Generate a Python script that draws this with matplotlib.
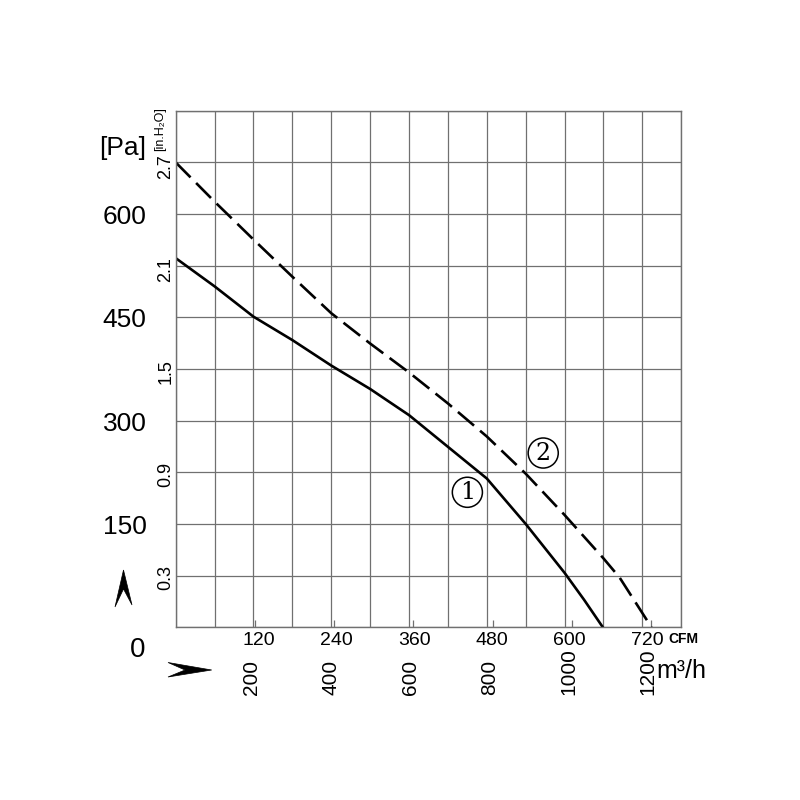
import matplotlib
matplotlib.use("Agg")
import matplotlib.pyplot as plt
from matplotlib.patches import Polygon

# Kurve 1 (durchgezogen) und Kurve 2 (gestrichelt): Volumenstrom CFM / Druck Pa
cfm_1 = [0, 60, 120, 180, 240, 300, 360, 420, 480, 540, 600, 630, 659]
pa_1 = [536, 495, 451, 417, 380, 346, 308, 262, 216, 150, 79, 40, 0]

cfm_2 = [0, 60, 120, 180, 240, 300, 360, 420, 480, 540, 600, 660, 685, 734]
pa_2 = [675, 618, 563, 509, 456, 412, 370, 325, 277, 223, 163, 100, 72, 0]

pa_ticks = [150, 300, 450, 600]
inh2o_ticks = [0.3, 0.9, 1.5, 2.1, 2.7]
cfm_ticks = [120, 240, 360, 480, 600, 720]
m3h_ticks = [200, 400, 600, 800, 1000, 1200]

PA_PER_INH2O = 249.0
CFM_PER_M3H = 0.611  # so wie im Diagramm gezeichnet

FONT = ["Liberation Sans", "DejaVu Sans"]
GRID = "#707070"

fig = plt.figure(figsize=(8, 8), dpi=100)
ax = fig.add_axes([0.2196, 0.2159, 0.632, 0.6457])

ax.plot(cfm_1, pa_1, color="black", lw=1.9, solid_joinstyle="round")
ax.plot(cfm_2, pa_2, color="black", lw=1.9, dashes=(8, 3))

ax.set_xlim(0, 780)
ax.set_ylim(0, 750)
ax.set_xticks(range(0, 781, 60))
ax.set_yticks(range(0, 751, 75))
ax.grid(True, color=GRID, lw=0.9)
ax.tick_params(length=0, labelbottom=False, labelleft=False)
for s in ax.spines.values():
    s.set_color(GRID)
    s.set_linewidth(1.0)

# kleine Striche fuer m3/h
sec = ax.secondary_xaxis("bottom", functions=(lambda x: x / CFM_PER_M3H, lambda x: x * CFM_PER_M3H))
sec.set_xticks(m3h_ticks)
sec.tick_params(direction="in", length=5, width=0.9, color=GRID, labelbottom=False)
sec.spines["bottom"].set_visible(False)

# Beschriftung links (Pa)
for v in pa_ticks:
    ax.annotate(str(v), xy=(0, v), xycoords=("axes fraction", "data"),
                xytext=(-51, -3), textcoords="offset pixels",
                ha="center", va="center", fontsize=19, family=FONT)
fig.text(138 / 800, 1 - 650 / 800, "0", ha="center", va="center", fontsize=20, family=FONT)
fig.text(123 / 800, 1 - 148 / 800, "[Pa]", ha="center", va="center", fontsize=19, family=FONT)

# Beschriftung inH2O
for v in inh2o_ticks:
    ax.annotate(str(v), xy=(0, v * PA_PER_INH2O), xycoords=("axes fraction", "data"),
                xytext=(-10, -2), textcoords="offset pixels", rotation=90,
                ha="center", va="center", fontsize=13, family=FONT)
fig.text(160 / 800, 1 - 129 / 800, "[in.H₂O]", rotation=90, ha="center", va="center",
         fontsize=9, family=FONT)

# Beschriftung unten (CFM und m3/h)
for v in cfm_ticks:
    ax.annotate(str(v), xy=(v, 0), xycoords=("data", "axes fraction"),
                xytext=(5, -13), textcoords="offset pixels",
                ha="center", va="center", fontsize=14, family=FONT)
fig.text(683 / 800, 1 - 639 / 800, "CFM", ha="center", va="center", fontsize=10,
         weight="bold", family=FONT)

for v in m3h_ticks:
    ax.annotate(str(v), xy=(v * CFM_PER_M3H, 0), xycoords=("data", "axes fraction"),
                xytext=(-3, -68), textcoords="offset pixels", rotation=90,
                ha="center", va="bottom", fontsize=15, family=FONT)
fig.text(681 / 800, 1 - 671 / 800, "m³/h", ha="center", va="center", fontsize=18, family=FONT)

# Kurvennummern
ax.text(450, 196, "1", ha="center", va="center", fontsize=17, family="DejaVu Serif",
        bbox=dict(boxstyle="circle,pad=0.15", fc="white", ec="black", lw=1.1))
ax.text(567, 253, "2", ha="center", va="center", fontsize=17, family="DejaVu Serif",
        bbox=dict(boxstyle="circle,pad=0.15", fc="white", ec="black", lw=1.1))

# Pfeilspitzen
def px(pts):
    return [(x / 800, 1 - y / 800) for x, y in pts]

fig.patches.append(Polygon(px([(123.5, 570), (132, 605), (123.5, 589), (115, 607)]),
                           closed=True, fc="black", ec="black", lw=0.5,
                           transform=fig.transFigure, figure=fig))
fig.patches.append(Polygon(px([(211.7, 670), (168, 662.5), (185, 670), (168, 677)]),
                           closed=True, fc="black", ec="black", lw=0.5,
                           transform=fig.transFigure, figure=fig))

fig.savefig("out.png", dpi=100, facecolor="white")
